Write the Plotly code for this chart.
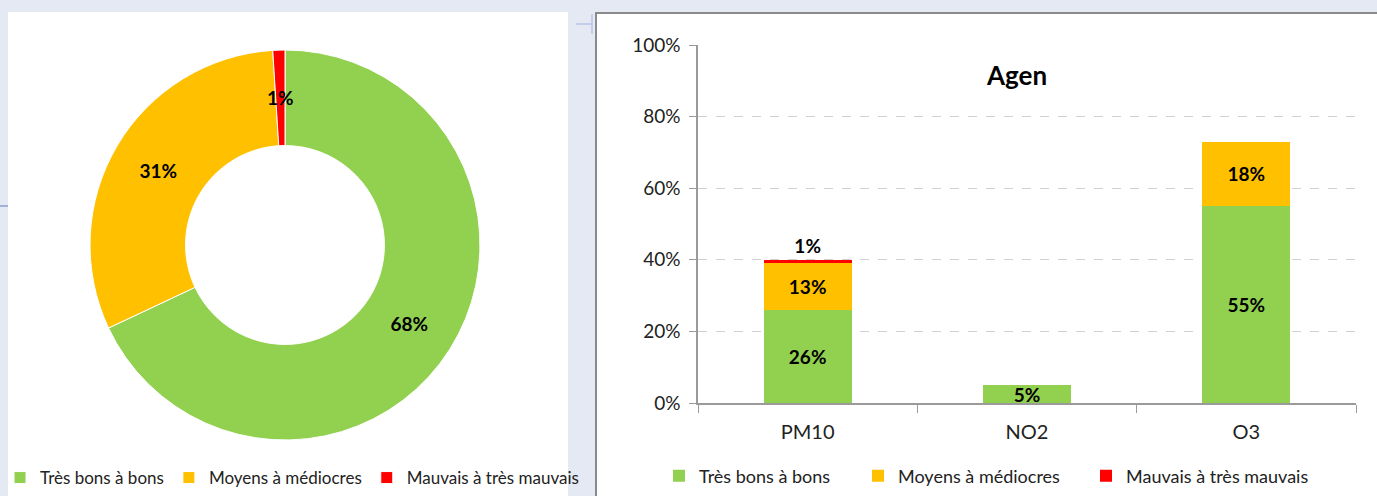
import math
import plotly.graph_objects as go

W, H = 1377, 496

# ---- data ----
donut_labels = ["Très bons à bons", "Moyens à médiocres", "Mauvais à très mauvais"]
donut_values = [68, 31, 1]
colors = ["#92D050", "#FFC000", "#FF0000"]

categories = ["PM10", "NO2", "O3"]
bons = [26, 5, 55]
moyens = [13, 0, 18]
mauvais = [1, 0, 0]
series_names = donut_labels
y_ticks = [0, 20, 40, 60, 80, 100]
y_tick_labels = ["0%", "20%", "40%", "60%", "80%", "100%"]

FONT = "Lato, 'Open Sans', sans-serif"

def px(x):
    return x / W

def py(y):
    return 1 - y / H

fig = go.Figure()

# donut geometry (pixels)
PIE_X0, PIE_X1, PIE_Y0, PIE_Y1 = 90, 480, 50, 440
HOLE = 0.51
cx, cy = (PIE_X0 + PIE_X1) / 2, (PIE_Y0 + PIE_Y1) / 2
R = min(PIE_X1 - PIE_X0, PIE_Y1 - PIE_Y0) / 2
total = sum(donut_values)
big = [v / total >= 0.05 for v in donut_values]
pie_text = [f"<b>{v}%</b>" if b else "" for v, b in zip(donut_values, big)]

fig.add_trace(go.Pie(
    labels=donut_labels, values=donut_values, hole=HOLE,
    sort=False, direction="clockwise", rotation=0,
    marker=dict(colors=colors, line=dict(color="white", width=1)),
    text=pie_text, texttemplate="%{text}", textposition="inside",
    insidetextorientation="horizontal",
    textfont=dict(size=19, color="black", family=FONT),
    domain=dict(x=[px(PIE_X0), px(PIE_X1)], y=[py(PIE_Y1), py(PIE_Y0)]),
    legend="legend", showlegend=True,
))

# labels of thin donut slices, placed at the slice's mid-ring
annotations = []
cum = 0
for v, b in zip(donut_values, big):
    a = math.radians((cum + v / 2) / total * 360)
    cum += v
    if b:
        continue
    r = R * (1 + HOLE) / 2
    annotations.append(dict(
        text=f"<b>{v}%</b>", xref="paper", yref="paper",
        x=px(cx + r * math.sin(a)), y=py(cy - r * math.cos(a)),
        xanchor="center", yanchor="middle", showarrow=False,
        font=dict(size=19, color="black", family=FONT)))

# bars
series = [bons, moyens, mauvais]
legend_widths = [154, 183, 200]
for i, (name, vals) in enumerate(zip(series_names, series)):
    txt = [f"<b>{v}%</b>" if v > 0 else "" for v in vals]
    fig.add_trace(go.Bar(
        x=categories, y=vals, name=name, marker_color=colors[i],
        marker_line_width=0, width=0.4,
        text=txt, texttemplate="%{text}",
        textposition="outside" if i == 2 else "inside",
        insidetextanchor="middle",
        textfont=dict(size=19, color="black", family=FONT),
        cliponaxis=False,
        legend="legend2", legendwidth=legend_widths[i],
        xaxis="x", yaxis="y",
    ))

annotations.append(dict(
    text="<b>Agen</b>", xref="paper", yref="paper",
    x=px(1016), y=py(75), xanchor="center", yanchor="middle",
    showarrow=False, font=dict(size=26, color="black", family=FONT)))

fig.update_layout(
    width=W, height=H,
    margin=dict(l=0, r=0, t=0, b=0, autoexpand=False),
    paper_bgcolor="#e5e9f3",
    plot_bgcolor="rgba(0,0,0,0)",
    barmode="stack",
    uniformtext=dict(minsize=19, mode="show"),
    font=dict(family=FONT, color="#222"),
    xaxis=dict(
        domain=[px(698), px(1356)],
        showline=True, linecolor="#9a9a9a", linewidth=1.5,
        ticks="outside", tickson="boundaries", ticklen=8, tickcolor="#9a9a9a",
        tickfont=dict(size=20, color="#222", family=FONT),
        ticklabelstandoff=10,
        showgrid=False, fixedrange=True,
    ),
    yaxis=dict(
        domain=[py(403), py(45)],
        range=[0, 100],
        tickvals=y_ticks, ticktext=y_tick_labels,
        showline=True, linecolor="#9a9a9a", linewidth=1.5,
        ticks="outside", ticklen=7, tickcolor="#9a9a9a",
        tickfont=dict(size=19, color="#222", family=FONT),
        showgrid=True, gridcolor="#d0d0d0", griddash="dash", gridwidth=1,
        zeroline=False, ticklabelstandoff=5, fixedrange=True,
    ),
    legend=dict(
        orientation="h", x=px(0), y=py(478), xanchor="left", yanchor="middle",
        font=dict(size=17, color="#222", family=FONT),
        bgcolor="rgba(0,0,0,0)", itemwidth=30, traceorder="normal",
    ),
    legend2=dict(
        orientation="h", x=px(659), y=py(476), xanchor="left", yanchor="middle",
        font=dict(size=18, color="#222", family=FONT),
        bgcolor="rgba(0,0,0,0)", itemwidth=30, traceorder="normal",
    ),
    shapes=[
        dict(type="rect", xref="paper", yref="paper", layer="below",
             x0=px(8), x1=px(568), y0=py(500), y1=py(12),
             fillcolor="white", line=dict(width=0)),
        dict(type="rect", xref="paper", yref="paper", layer="below",
             x0=px(596), x1=px(1390), y0=py(510), y1=py(13),
             fillcolor="white", line=dict(color="#8a8a8a", width=2)),
        dict(type="line", xref="paper", yref="paper", layer="below",
             x0=px(0), x1=px(8), y0=py(206), y1=py(206),
             line=dict(color="#9fb2d6", width=2)),
        dict(type="line", xref="paper", yref="paper", layer="below",
             x0=px(576), x1=px(592), y0=py(24), y1=py(24),
             line=dict(color="#b7c6e4", width=1.5)),
        dict(type="line", xref="paper", yref="paper", layer="below",
             x0=px(592), x1=px(592), y0=py(14), y1=py(34),
             line=dict(color="#b7c6e4", width=1.5)),
    ],
    annotations=annotations,
)

fig.write_html(
    "out.html",
    config={"displayModeBar": False},
    post_script="document.body.style.margin='0';document.body.style.overflow='hidden';",
)
